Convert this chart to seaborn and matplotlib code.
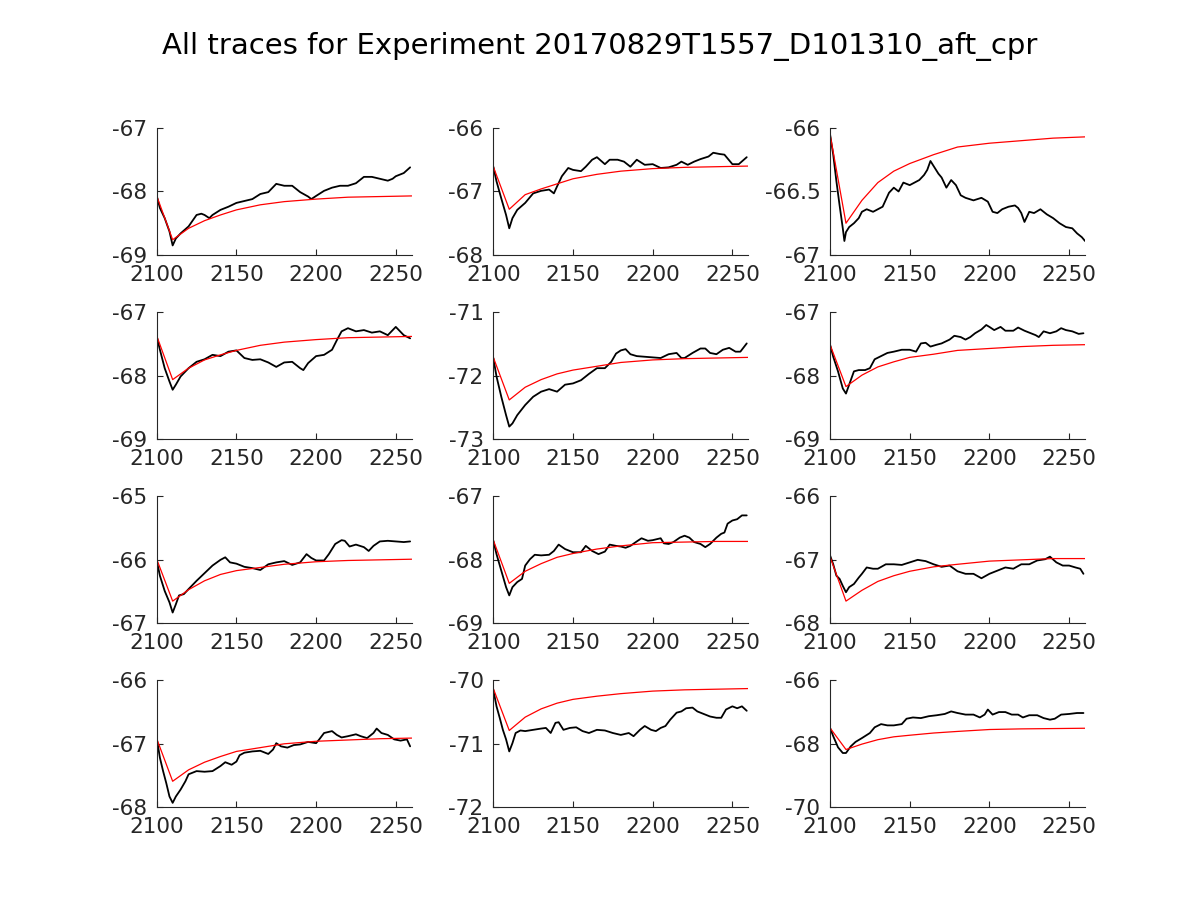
import matplotlib
matplotlib.use("Agg")
import matplotlib.pyplot as plt
from matplotlib.ticker import FuncFormatter, FixedLocator
import seaborn as sns

# ---------------- data ----------------
title_text = "All traces for Experiment 20170829T1557_D101310_aft_cpr"
x_ticks = [2100, 2150, 2200, 2250]
x_limits = (2100, 2260)

fit_x = [2100, 2110, 2120, 2130, 2140, 2150, 2165, 2180, 2200, 2220, 2240, 2260]

ylims = [(-69, -67), (-68, -66), (-67, -66),
         (-69, -67), (-73, -71), (-69, -67),
         (-67, -65), (-69, -67), (-68, -66),
         (-68, -66), (-72, -70), (-70, -66)]

t1_x = [2100, 2102, 2105, 2108, 2110, 2112, 2115, 2120, 2125, 2128, 2130, 2133, 2135, 2140, 2145, 2150, 2155, 2160,
        2165, 2170, 2175, 2180, 2185, 2190, 2195, 2197, 2200, 2205, 2210, 2215, 2220, 2225, 2230, 2235, 2240, 2245,
        2248, 2250, 2255, 2259]
t1_y = [-68.07, -68.26, -68.42, -68.63, -68.85, -68.74, -68.66, -68.55, -68.37, -68.35, -68.37, -68.42, -68.37,
        -68.29, -68.24, -68.18, -68.15, -68.12, -68.04, -68.01, -67.88, -67.91, -67.91, -68.01, -68.08, -68.12,
        -68.07, -67.99, -67.94, -67.91, -67.91, -67.87, -67.77, -67.77, -67.80, -67.83, -67.80, -67.76, -67.71,
        -67.62]
fit1_y = [-68.07, -68.76, -68.58, -68.46, -68.37, -68.29, -68.21, -68.16, -68.12, -68.09, -68.08, -68.07]

t2_x = [2100, 2102, 2105, 2108, 2110, 2112, 2115, 2120, 2125, 2130, 2135, 2138, 2140, 2143, 2147, 2150, 2155, 2158,
        2162, 2165, 2170, 2173, 2178, 2182, 2186, 2190, 2195, 2200, 2205, 2210, 2215, 2218, 2222, 2226, 2230, 2235,
        2238, 2242, 2245, 2250, 2254, 2259]
t2_y = [-66.61, -66.84, -67.11, -67.37, -67.58, -67.42, -67.29, -67.18, -67.03, -66.99, -66.97, -67.03, -66.92,
        -66.76, -66.63, -66.66, -66.68, -66.61, -66.50, -66.46, -66.57, -66.50, -66.50, -66.53, -66.61, -66.50,
        -66.58, -66.57, -66.63, -66.62, -66.58, -66.53, -66.58, -66.53, -66.49, -66.45, -66.39, -66.41, -66.42,
        -66.57, -66.57, -66.46]
fit2_y = [-66.61, -67.28, -67.05, -66.96, -66.88, -66.80, -66.73, -66.68, -66.64, -66.62, -66.61, -66.60]

t3_x = [2100, 2102, 2104, 2106, 2108, 2109, 2110, 2112, 2115, 2118, 2120, 2123, 2127, 2130, 2133, 2137, 2140, 2143,
        2146, 2150, 2153, 2156, 2159, 2161, 2163, 2165, 2168, 2170, 2173, 2176, 2179, 2182, 2185, 2190, 2195, 2199,
        2202, 2205, 2208, 2212, 2216, 2218, 2220, 2222, 2225, 2228, 2232, 2236, 2240, 2244, 2248, 2252, 2255, 2258,
        2260]
t3_y = [-66.05, -66.21, -66.42, -66.61, -66.79, -66.89, -66.82, -66.78, -66.75, -66.71, -66.66, -66.64, -66.66,
        -66.64, -66.62, -66.51, -66.47, -66.50, -66.43, -66.45, -66.43, -66.41, -66.37, -66.33, -66.26, -66.30,
        -66.36, -66.39, -66.47, -66.41, -66.45, -66.53, -66.55, -66.57, -66.55, -66.58, -66.66, -66.67, -66.64,
        -66.62, -66.61, -66.63, -66.67, -66.74, -66.66, -66.67, -66.64, -66.68, -66.71, -66.75, -66.78, -66.79,
        -66.83, -66.86, -66.89]
fit3_y = [-66.05, -66.75, -66.57, -66.43, -66.34, -66.28, -66.21, -66.15, -66.12, -66.10, -66.08, -66.07]

t4_x = [2100, 2102, 2105, 2108, 2110, 2112, 2115, 2120, 2125, 2130, 2135, 2140, 2145, 2150, 2155, 2160, 2165, 2170,
        2175, 2180, 2185, 2190, 2192, 2195, 2200, 2205, 2210, 2213, 2216, 2220, 2225, 2230, 2235, 2240, 2245, 2250,
        2255, 2259]
t4_y = [-67.38, -67.59, -67.88, -68.09, -68.22, -68.14, -68.01, -67.88, -67.78, -67.74, -67.67, -67.69, -67.62,
        -67.60, -67.72, -67.75, -67.74, -67.79, -67.86, -67.79, -67.78, -67.88, -67.91, -67.80, -67.69, -67.67,
        -67.59, -67.44, -67.30, -67.25, -67.30, -67.28, -67.32, -67.30, -67.36, -67.23, -67.36, -67.41]
fit4_y = [-67.37, -68.06, -67.88, -67.75, -67.67, -67.60, -67.52, -67.47, -67.43, -67.40, -67.39, -67.38]

t5_x = [2100, 2102, 2105, 2108, 2110, 2112, 2115, 2120, 2125, 2130, 2135, 2140, 2145, 2150, 2155, 2160, 2165, 2170,
        2174, 2177, 2180, 2183, 2186, 2190, 2195, 2200, 2205, 2210, 2215, 2218, 2220, 2225, 2230, 2233, 2236, 2240,
        2244, 2248, 2252, 2255, 2259]
t5_y = [-71.72, -72.01, -72.33, -72.62, -72.80, -72.75, -72.62, -72.46, -72.33, -72.25, -72.21, -72.25, -72.14,
        -72.12, -72.07, -71.97, -71.88, -71.88, -71.78, -71.65, -71.60, -71.58, -71.66, -71.69, -71.70, -71.71,
        -71.72, -71.66, -71.64, -71.72, -71.72, -71.64, -71.57, -71.57, -71.64, -71.66, -71.59, -71.56, -71.62,
        -71.62, -71.49]
fit5_y = [-71.71, -72.38, -72.18, -72.06, -71.97, -71.91, -71.85, -71.79, -71.75, -71.73, -71.72, -71.71]

t6_x = [2100, 2102, 2105, 2108, 2110, 2112, 2115, 2118, 2122, 2125, 2128, 2132, 2136, 2140, 2145, 2150, 2154, 2157,
        2160, 2163, 2167, 2170, 2175, 2178, 2182, 2185, 2188, 2191, 2195, 2198, 2200, 2203, 2207, 2210, 2215, 2218,
        2222, 2226, 2229, 2231, 2234, 2238, 2242, 2245, 2248, 2252, 2256, 2259]
t6_y = [-67.51, -67.70, -67.93, -68.20, -68.28, -68.14, -67.93, -67.91, -67.91, -67.88, -67.74, -67.69, -67.64,
        -67.62, -67.59, -67.59, -67.62, -67.49, -67.48, -67.54, -67.51, -67.49, -67.43, -67.37, -67.39, -67.43,
        -67.39, -67.33, -67.27, -67.20, -67.23, -67.28, -67.23, -67.29, -67.29, -67.24, -67.29, -67.33, -67.36,
        -67.39, -67.30, -67.33, -67.30, -67.25, -67.28, -67.30, -67.34, -67.33]
fit6_y = [-67.51, -68.17, -67.99, -67.86, -67.78, -67.71, -67.66, -67.60, -67.57, -67.54, -67.52, -67.51]

t7_x = [2100, 2102, 2105, 2108, 2110, 2112, 2114, 2117, 2120, 2125, 2130, 2135, 2140, 2143, 2146, 2150, 2155, 2160,
        2165, 2170, 2175, 2180, 2185, 2190, 2194, 2197, 2200, 2205, 2208, 2212, 2216, 2218, 2221, 2225, 2230, 2233,
        2236, 2240, 2245, 2250, 2255, 2259]
t7_y = [-66.01, -66.25, -66.49, -66.67, -66.83, -66.70, -66.56, -66.54, -66.46, -66.33, -66.21, -66.09, -66.00,
        -65.96, -66.04, -66.06, -66.11, -66.13, -66.16, -66.07, -66.04, -66.02, -66.08, -66.04, -65.91, -65.97,
        -66.01, -66.01, -65.91, -65.75, -65.69, -65.70, -65.79, -65.76, -65.80, -65.86, -65.78, -65.71, -65.70,
        -65.71, -65.72, -65.71]
fit7_y = [-65.99, -66.65, -66.47, -66.33, -66.23, -66.17, -66.12, -66.07, -66.03, -66.01, -66.00, -65.99]

t8_x = [2100, 2102, 2105, 2108, 2110, 2112, 2115, 2118, 2120, 2123, 2126, 2130, 2135, 2138, 2141, 2145, 2150, 2155,
        2158, 2162, 2166, 2170, 2173, 2177, 2180, 2183, 2186, 2190, 2193, 2197, 2200, 2205, 2207, 2210, 2213, 2217,
        2220, 2223, 2226, 2230, 2233, 2236, 2240, 2243, 2245, 2247, 2250, 2253, 2256, 2259]
t8_y = [-67.70, -67.91, -68.17, -68.43, -68.56, -68.43, -68.35, -68.30, -68.09, -67.99, -67.92, -67.93, -67.92,
        -67.86, -67.76, -67.83, -67.88, -67.88, -67.78, -67.86, -67.91, -67.87, -67.76, -67.78, -67.79, -67.81,
        -67.78, -67.71, -67.66, -67.70, -67.69, -67.66, -67.74, -67.75, -67.72, -67.65, -67.62, -67.65, -67.72,
        -67.75, -67.80, -67.75, -67.65, -67.59, -67.57, -67.43, -67.38, -67.36, -67.30, -67.30]
fit8_y = [-67.69, -68.37, -68.18, -68.06, -67.96, -67.90, -67.83, -67.78, -67.73, -67.72, -67.71, -67.71]

t9_x = [2100, 2102, 2104, 2106, 2108, 2110, 2112, 2115, 2118, 2120, 2123, 2127, 2130, 2135, 2140, 2145, 2150, 2155,
        2160, 2165, 2170, 2175, 2180, 2185, 2190, 2195, 2200, 2205, 2210, 2215, 2220, 2225, 2230, 2235, 2238, 2242,
        2246, 2250, 2254, 2257, 2259]
t9_y = [-66.93, -67.07, -67.25, -67.30, -67.41, -67.51, -67.43, -67.38, -67.28, -67.22, -67.12, -67.14, -67.14,
        -67.07, -67.07, -67.08, -67.04, -67.00, -67.02, -67.07, -67.11, -67.09, -67.18, -67.22, -67.22, -67.29,
        -67.22, -67.17, -67.12, -67.14, -67.07, -67.07, -67.01, -66.99, -66.95, -67.04, -67.09, -67.09, -67.12,
        -67.14, -67.22]
fit9_y = [-66.95, -67.65, -67.48, -67.34, -67.25, -67.18, -67.11, -67.07, -67.02, -67.00, -66.98, -66.98]

t10_x = [2100, 2102, 2104, 2106, 2108, 2110, 2112, 2115, 2118, 2120, 2125, 2130, 2135, 2140, 2143, 2147, 2150, 2152,
         2155, 2160, 2165, 2170, 2173, 2175, 2178, 2182, 2186, 2190, 2195, 2200, 2202, 2205, 2210, 2213, 2216, 2220,
         2225, 2228, 2232, 2236, 2238, 2241, 2245, 2249, 2253, 2257, 2259]
t10_y = [-66.91, -67.22, -67.43, -67.62, -67.83, -67.93, -67.83, -67.72, -67.59, -67.48, -67.43, -67.44, -67.43,
         -67.35, -67.29, -67.33, -67.28, -67.18, -67.14, -67.12, -67.11, -67.16, -67.09, -66.99, -67.04, -67.06,
         -67.02, -67.01, -66.97, -66.99, -66.93, -66.83, -66.80, -66.86, -66.90, -66.88, -66.85, -66.88, -66.91,
         -66.83, -66.76, -66.83, -66.86, -66.93, -66.95, -66.93, -67.04]
fit10_y = [-66.92, -67.59, -67.41, -67.29, -67.20, -67.12, -67.06, -67.00, -66.96, -66.94, -66.92, -66.91]

t11_x = [2100, 2102, 2104, 2106, 2108, 2110, 2112, 2114, 2117, 2120, 2125, 2130, 2133, 2136, 2139, 2141, 2144, 2148,
         2152, 2156, 2160, 2165, 2170, 2175, 2180, 2185, 2188, 2192, 2195, 2199, 2202, 2205, 2208, 2211, 2215, 2218,
         2221, 2225, 2228, 2232, 2236, 2240, 2243, 2246, 2250, 2253, 2256, 2259]
t11_y = [-70.15, -70.41, -70.59, -70.78, -70.93, -71.12, -70.99, -70.83, -70.79, -70.80, -70.78, -70.76, -70.75,
         -70.83, -70.67, -70.66, -70.78, -70.75, -70.74, -70.80, -70.83, -70.78, -70.79, -70.83, -70.86, -70.83,
         -70.88, -70.78, -70.72, -70.78, -70.80, -70.75, -70.72, -70.62, -70.51, -70.49, -70.44, -70.43, -70.49,
         -70.53, -70.57, -70.59, -70.59, -70.46, -70.41, -70.44, -70.41, -70.48]
fit11_y = [-70.13, -70.79, -70.58, -70.45, -70.36, -70.30, -70.25, -70.21, -70.17, -70.15, -70.14, -70.13]

t12_x = [2100, 2102, 2105, 2108, 2110, 2113, 2116, 2120, 2125, 2128, 2132, 2136, 2140, 2145, 2148, 2152, 2157, 2162,
         2167, 2172, 2176, 2180, 2185, 2190, 2194, 2197, 2199, 2202, 2206, 2210, 2214, 2218, 2221, 2225, 2230, 2234,
         2238, 2241, 2245, 2250, 2255, 2259]
t12_y = [-67.50, -67.76, -68.11, -68.29, -68.29, -68.08, -67.94, -67.82, -67.66, -67.48, -67.38, -67.42, -67.42,
         -67.38, -67.21, -67.17, -67.19, -67.13, -67.10, -67.06, -66.98, -67.03, -67.08, -67.08, -67.17, -67.08,
         -66.92, -67.08, -67.00, -67.00, -67.08, -67.08, -67.17, -67.10, -67.10, -67.19, -67.24, -67.21, -67.08,
         -67.06, -67.03, -67.03]
fit12_y = [-67.50, -68.18, -68.01, -67.87, -67.78, -67.73, -67.66, -67.61, -67.55, -67.53, -67.52, -67.51]

traces_x = [t1_x, t2_x, t3_x, t4_x, t5_x, t6_x, t7_x, t8_x, t9_x, t10_x, t11_x, t12_x]
traces_y = [t1_y, t2_y, t3_y, t4_y, t5_y, t6_y, t7_y, t8_y, t9_y, t10_y, t11_y, t12_y]
fits_y = [fit1_y, fit2_y, fit3_y, fit4_y, fit5_y, fit6_y, fit7_y, fit8_y, fit9_y, fit10_y, fit11_y, fit12_y]

# ---------------- styling ----------------
sns.set_style("ticks")
plt.rcParams['font.family'] = ['DejaVu Sans']
plt.rcParams['axes.unicode_minus'] = False
plt.rcParams['xtick.direction'] = 'in'
plt.rcParams['ytick.direction'] = 'in'

axis_col = '#262626'
fig = plt.figure(figsize=(12, 9), dpi=100)
fig.patch.set_facecolor('white')

col_left = [0.1306, 0.4111, 0.6917]
row_bottom = [0.7167, 0.5119, 0.3074, 0.1030]
ax_w, ax_h = 0.2125, 0.1411

fmt = FuncFormatter(lambda v, p: f"{v:g}")

for i in range(12):
    r, c = divmod(i, 3)
    ax = fig.add_axes([col_left[c], row_bottom[r], ax_w, ax_h])
    sns.lineplot(x=traces_x[i], y=traces_y[i], ax=ax, color='black', linewidth=1.3,
                 estimator=None, sort=False)
    sns.lineplot(x=fit_x, y=fits_y[i], ax=ax, color='red', linewidth=0.9,
                 estimator=None, sort=False)
    ax.set_xlim(*x_limits)
    lo, hi = ylims[i]
    ax.set_ylim(lo, hi)
    ax.xaxis.set_major_locator(FixedLocator(x_ticks))
    ax.yaxis.set_major_locator(FixedLocator([lo, (lo + hi) / 2, hi]))
    ax.yaxis.set_major_formatter(fmt)
    ax.xaxis.set_major_formatter(fmt)
    sns.despine(ax=ax)
    for s in ['left', 'bottom']:
        ax.spines[s].set_color(axis_col)
        ax.spines[s].set_linewidth(0.8)
    ax.tick_params(axis='both', labelsize=15.5, colors=axis_col, length=4, width=0.8)
    ax.tick_params(axis='x', pad=7)
    ax.tick_params(axis='y', pad=7)
    ax.set_xlabel('')
    ax.set_ylabel('')
    ax.set_facecolor('white')

fig.suptitle(title_text, x=0.5, y=0.948, fontsize=21, color='black', va='center')

fig.savefig('out.png', dpi=100, facecolor='white')
